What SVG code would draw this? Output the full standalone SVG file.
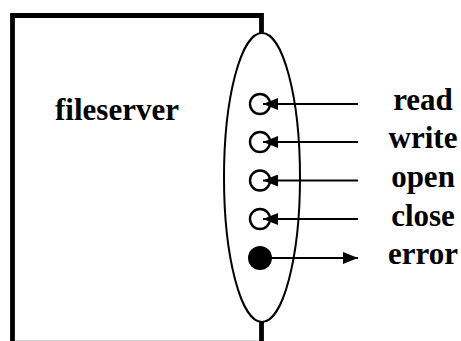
<svg xmlns="http://www.w3.org/2000/svg" width="461" height="341" viewBox="0 0 461 341">
  <style>
    .label { font-family: "Liberation Serif", "Times New Roman", serif; font-weight: bold; font-size: 31px; fill: #000; }
    .port { fill: #fff; stroke: #000; stroke-width: 2.4; }
    .port-out { fill: #000; }
    .wire { stroke: #000; stroke-width: 2; fill: none; }
  </style>
  <defs>
    <marker id="head" viewBox="0 0 15 12" refX="15" refY="6" markerWidth="15" markerHeight="12" markerUnits="userSpaceOnUse" orient="auto">
      <path d="M0 0 L15 6 L0 12 Z" fill="#000"/>
    </marker>
  </defs>

  <rect width="461" height="341" fill="#fff"/>

  <!-- server box, open at the bottom -->
  <g id="fileserver">
    <path d="M12.5 341 V15.5 H261.5 V34" fill="none" stroke="#000" stroke-width="4.8"/>
    <path d="M261.5 321 V341" fill="none" stroke="#000" stroke-width="4.8"/>
    <line x1="15" y1="340.5" x2="259" y2="340.5" stroke="#d0d0d0" stroke-width="1"/>
    <text class="label" x="117" y="120" text-anchor="middle">fileserver</text>
  </g>

  <!-- interface boundary -->
  <g id="interface">
    <ellipse cx="262" cy="177.5" rx="38" ry="144.5" fill="#fff" stroke="#000" stroke-width="2"/>
  </g>

  <!-- ports -->
  <g id="port-read"><circle class="port" cx="260" cy="104" r="10"/></g>
  <g id="port-write"><circle class="port" cx="260" cy="142" r="10"/></g>
  <g id="port-open"><circle class="port" cx="260" cy="180.5" r="10"/></g>
  <g id="port-close"><circle class="port" cx="260" cy="219" r="10"/></g>
  <g id="port-error"><circle class="port-out" cx="260" cy="258" r="12"/></g>

  <!-- operation labels -->
  <g id="label-read"><text class="label" x="423" y="110" text-anchor="middle">read</text></g>
  <g id="label-write"><text class="label" x="423" y="148" text-anchor="middle">write</text></g>
  <g id="label-open"><text class="label" x="423" y="187" text-anchor="middle">open</text></g>
  <g id="label-close"><text class="label" x="423" y="226" text-anchor="middle">close</text></g>
  <g id="label-error"><text class="label" x="423" y="264" text-anchor="middle">error</text></g>

  <!-- connectors -->
  <g id="connectors">
    <line class="wire" x1="358" y1="104" x2="263" y2="104" marker-end="url(#head)"/>
    <line class="wire" x1="358" y1="142" x2="263" y2="142" marker-end="url(#head)"/>
    <line class="wire" x1="358" y1="180.5" x2="263" y2="180.5" marker-end="url(#head)"/>
    <line class="wire" x1="358" y1="219" x2="263" y2="219" marker-end="url(#head)"/>
    <line class="wire" x1="270" y1="258" x2="358" y2="258" marker-end="url(#head)"/>
  </g>
</svg>
